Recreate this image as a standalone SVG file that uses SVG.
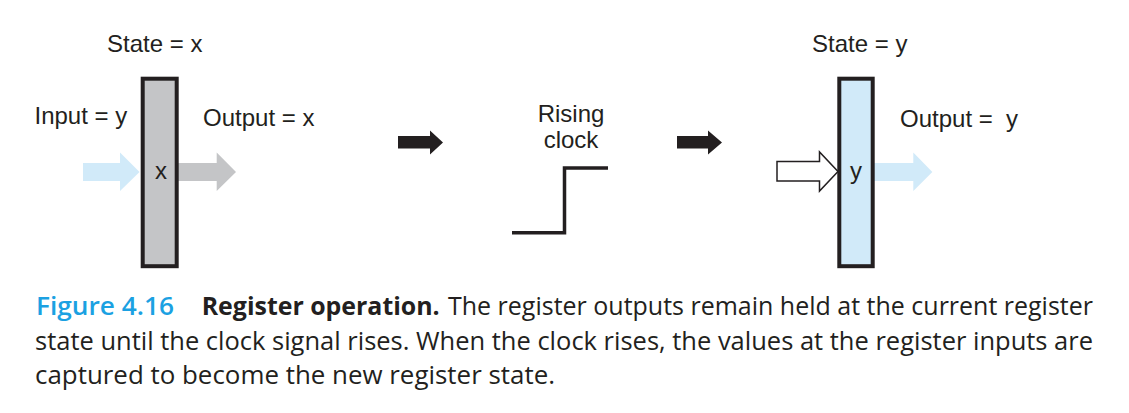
<svg xmlns="http://www.w3.org/2000/svg" width="1129" height="413" viewBox="0 0 1129 413">
  <style>
    .lbl { font-family: "Liberation Sans", Arial, Helvetica, sans-serif; font-size: 24px; fill: #231f20; }
    .cap { font-family: "Open Sans", "Noto Sans", sans-serif; font-size: 25.5px; fill: #231f20; }
    .reg { stroke: #231f20; stroke-width: 4; }
    .blk { fill: #231f20; }
    .blue { fill: #d1eaf9; }
    .gray { fill: #c4c5c7; }
  </style>
  <rect width="1129" height="413" fill="#ffffff"/>

  <g id="connectors">
    <polygon class="blue" points="83,163 120,163 120,152.5 139.5,172 120,191 120,181 83,181"/>
    <polygon class="gray" points="178,163 216.7,163 216.7,152.5 236,172 216.7,191 216.7,181 178,181"/>
    <polygon class="blk" points="398,136 430,136 430,130.5 443,142.5 430,154.5 430,148.5 398,148.5"/>
    <polygon class="blk" points="677,136 708,136 708,130.5 722,142.5 708,154.5 708,148.5 677,148.5"/>
    <polygon fill="#ffffff" stroke="#231f20" stroke-width="1.5" points="777,161.5 819.5,161.5 819.5,152 838,171.5 819.5,191 819.5,181 777,181"/>
    <polygon class="blue" points="874,163 913.3,163 913.3,152.5 932.3,172 913.3,191 913.3,181 874,181"/>
  </g>

  <g id="reg-left">
    <rect class="reg gray" x="142.7" y="78.7" width="34" height="187.5"/>
    <text class="lbl" x="161" y="178.5" text-anchor="middle">x</text>
    <text class="lbl" x="107" y="51.7">State = x</text>
    <text class="lbl" x="34.5" y="124">Input = y</text>
    <text class="lbl" x="203" y="126.3">Output = x</text>
  </g>

  <g id="clock">
    <text class="lbl" x="571" y="121.7" text-anchor="middle">Rising</text>
    <text class="lbl" x="571" y="148.3" text-anchor="middle">clock</text>
    <polyline points="512,232.7 564.5,232.7 564.5,168 608,168" fill="none" stroke="#231f20" stroke-width="3.5"/>
  </g>

  <g id="reg-right">
    <rect class="reg blue" x="839.3" y="78.7" width="33.4" height="187.5"/>
    <text class="lbl" x="856" y="178.5" text-anchor="middle">y</text>
    <text class="lbl" x="812" y="51.7">State = y</text>
    <text class="lbl" x="900" y="126.7" xml:space="preserve">Output =  y</text>
  </g>

  <g id="caption">
    <text class="cap" x="36" y="315" textLength="138" lengthAdjust="spacingAndGlyphs" style="fill:#1ba1e2;font-weight:600">Figure 4.16</text>
    <text class="cap" x="201.7" y="315" textLength="238" lengthAdjust="spacingAndGlyphs" style="font-weight:700">Register operation.</text>
    <text class="cap" x="448" y="315" textLength="645" lengthAdjust="spacingAndGlyphs">The register outputs remain held at the current register</text>
    <text class="cap" x="35" y="350" textLength="1058" lengthAdjust="spacingAndGlyphs">state until the clock signal rises. When the clock rises, the values at the register inputs are</text>
    <text class="cap" x="35" y="384" textLength="520" lengthAdjust="spacingAndGlyphs">captured to become the new register state.</text>
  </g>
</svg>
